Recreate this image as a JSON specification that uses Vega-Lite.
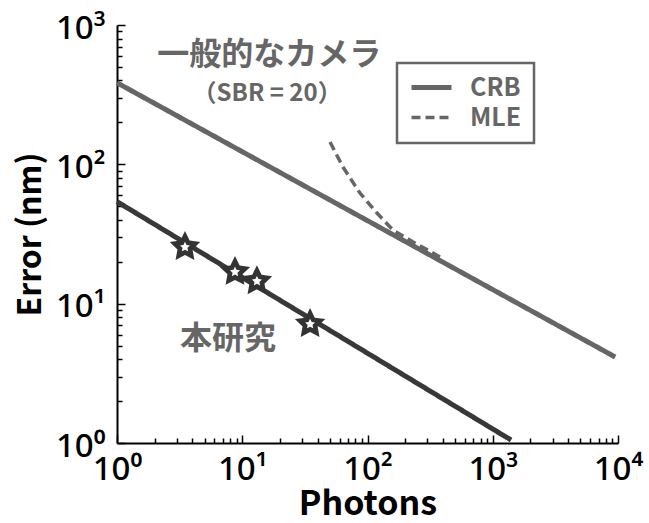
{
  "$schema": "https://vega.github.io/schema/vega-lite/v6.json",
  "width": 501,
  "height": 418,
  "autosize": "none",
  "padding": {"left": 117, "top": 25, "right": 31, "bottom": 80},
  "background": "white",
  "config": {"view": {"stroke": null}, "font": "Noto Sans CJK JP"},
  "datasets": {
    "lines": [
      {"series": "camera", "method": "CRB", "photons": 1, "error": 385},
      {"series": "camera", "method": "CRB", "photons": 9500, "error": 4.14},
      {"series": "ours", "method": "CRB", "photons": 1, "error": 54},
      {"series": "ours", "method": "CRB", "photons": 1400, "error": 1.05},
      {"series": "camera", "method": "MLE", "photons": 50.2, "error": 144.5},
      {"series": "camera", "method": "MLE", "photons": 63.7, "error": 95.7},
      {"series": "camera", "method": "MLE", "photons": 87.1, "error": 62.2},
      {"series": "camera", "method": "MLE", "photons": 119, "error": 44.7},
      {"series": "camera", "method": "MLE", "photons": 160, "error": 33.7},
      {"series": "camera", "method": "MLE", "photons": 231, "error": 27.7},
      {"series": "camera", "method": "MLE", "photons": 333, "error": 23.1},
      {"series": "camera", "method": "MLE", "photons": 379, "error": 21.6}
    ],
    "stars": [
      {"photons": 3.49, "error": 25.5},
      {"photons": 8.75, "error": 16.9},
      {"photons": 13.1, "error": 14.5},
      {"photons": 34.8, "error": 7.14}
    ],
    "notes": [
      {"label": "一般的なカメラ", "kind": "big", "photons": 16.4, "error": 605},
      {"label": "（SBR = 20）", "kind": "small", "photons": 15.8, "error": 322},
      {"label": "本研究", "kind": "big", "photons": 7.7, "error": 5.57}
    ]
  },
  "encoding": {
    "x": {
      "field": "photons", "type": "quantitative",
      "scale": {"type": "log", "domain": [1, 10000], "nice": false},
      "axis": {
        "title": "Photons", "titleFontSize": 34, "titleFontWeight": "bold", "titleColor": "black", "titleFont": "Noto Sans CJK JP", "titlePadding": -2,
        "values": [1,2,3,4,5,6,7,8,9,10,20,30,40,50,60,70,80,90,100,200,300,400,500,600,700,800,900,1000,2000,3000,4000,5000,6000,7000,8000,9000,10000],
        "labelExpr": "datum.value==1?'10⁰':datum.value==10?'10¹':datum.value==100?'10²':datum.value==1000?'10³':datum.value==10000?'10⁴':''",
        "labelFont": "Noto Sans", "labelFontSize": 33, "labelFontWeight": 500, "labelColor": "black", "labelOverlap": false, "labelFlush": false, "labelPadding": 18,
        "domainColor": "black", "domainWidth": 2,
        "tickColor": "black", "tickWidth": 1.5,
        "tickSize": {"condition": {"test": "datum.value==1||datum.value==10||datum.value==100||datum.value==1000||datum.value==10000", "value": -8}, "value": -5},
        "grid": false
      }
    },
    "y": {
      "field": "error", "type": "quantitative",
      "scale": {"type": "log", "domain": [1, 1000], "nice": false},
      "axis": {
        "title": "Error (nm)", "titleFontSize": 32, "titleFontWeight": "bold", "titleColor": "black", "titleFont": "Noto Sans CJK JP", "titlePadding": 8,
        "values": [1,2,3,4,5,6,7,8,9,10,20,30,40,50,60,70,80,90,100,200,300,400,500,600,700,800,900,1000],
        "labelExpr": "datum.value==1?'10⁰':datum.value==10?'10¹':datum.value==100?'10²':datum.value==1000?'10³':''",
        "labelFont": "Noto Sans", "labelFontSize": 33, "labelFontWeight": 500, "labelColor": "black", "labelOverlap": false, "labelFlush": false, "labelPadding": 20, "labelOffset": 3,
        "domainColor": "black", "domainWidth": 2,
        "tickColor": "black", "tickWidth": 1.5,
        "tickSize": {"condition": {"test": "datum.value==1||datum.value==10||datum.value==100||datum.value==1000", "value": -8}, "value": -5},
        "grid": false
      }
    }
  },
  "layer": [
    {
      "data": {"name": "lines"},
      "mark": {"type": "line", "strokeCap": "butt", "clip": false},
      "encoding": {
        "color": {"field": "series", "type": "nominal", "scale": {"domain": ["camera", "ours"], "range": ["#666666", "#383838"]}, "legend": null},
        "strokeWidth": {"field": "method", "type": "nominal", "scale": {"domain": ["CRB", "MLE"], "range": [5, 3.5]}, "legend": null},
        "strokeDash": {
          "field": "method", "type": "nominal",
          "scale": {"domain": ["CRB", "MLE"], "range": [[1, 0], [9, 5]]},
          "legend": {
            "orient": "none", "legendX": 280, "legendY": 38, "title": null,
            "strokeColor": "#666666", "padding": 12,
            "symbolType": "M-1,0L3,0", "symbolSize": 400, "symbolStrokeWidth": 4, "symbolStrokeColor": "#666666",
            "labelFontSize": 25, "labelColor": "#666666", "labelFont": "Noto Sans CJK JP", "labelFontWeight": "bold",
            "labelOffset": 36, "rowPadding": 4,
            "encode": {"legend": {"update": {"strokeWidth": {"value": 2.5}}}}
          }
        }
      }
    },
    {
      "data": {"name": "stars"},
      "mark": {"type": "point", "filled": true, "fill": "#333333", "stroke": null, "opacity": 1,
        "shape": "M0,-1L0.29,-0.4L0.951,-0.309L0.47,0.153L0.588,0.809L0,0.5L-0.588,0.809L-0.47,0.153L-0.951,-0.309L-0.29,-0.4Z", "size": 1024}
    },
    {
      "data": {"name": "stars"},
      "mark": {"type": "point", "filled": true, "fill": "white", "stroke": null, "opacity": 1,
        "shape": "M0,-1L0.29,-0.4L0.951,-0.309L0.47,0.153L0.588,0.809L0,0.5L-0.588,0.809L-0.47,0.153L-0.951,-0.309L-0.29,-0.4Z", "size": 110}
    },
    {
      "data": {"name": "notes"},
      "transform": [{"filter": "datum.kind == 'big'"}],
      "mark": {"type": "text", "fontSize": 32, "fontWeight": "bold", "color": "#666666", "align": "center", "baseline": "middle", "font": "Noto Sans CJK JP"},
      "encoding": {"text": {"field": "label"}}
    },
    {
      "data": {"name": "notes"},
      "transform": [{"filter": "datum.kind == 'small'"}],
      "mark": {"type": "text", "fontSize": 24, "fontWeight": "bold", "color": "#666666", "align": "center", "baseline": "middle", "font": "Noto Sans CJK JP"},
      "encoding": {"text": {"field": "label"}}
    }
  ]
}
